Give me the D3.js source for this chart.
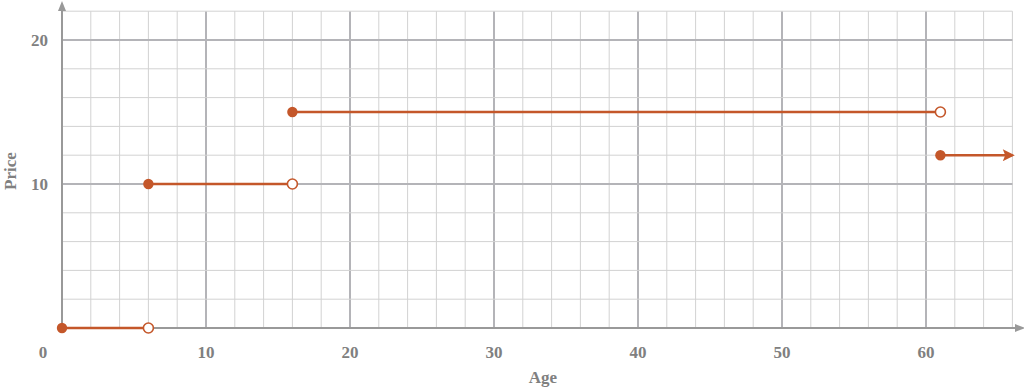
<!DOCTYPE html>
<html>
<head>
<meta charset="utf-8">
<script src="https://cdn.jsdelivr.net/npm/d3@7"></script>
<style>
  body { margin: 0; background: #fff; }
  text { font-family: "Liberation Serif", "Times New Roman", serif; font-weight: bold; fill: #808080; }
</style>
</head>
<body>
<svg id="chart" width="1024" height="389"></svg>
<script>
// step pieces: [start age, end age, price]
var segStart = [0, 6, 16, 61];
var segEnd = [6, 16, 61, 66];
var segPrice = [0, 10, 15, 12];
var lastOpen = true; // last piece keeps going (arrow)

var xTicks = [10, 20, 30, 40, 50, 60];
var yTicks = [10, 20];

var W = 1024, H = 389;
var x = d3.scaleLinear().domain([0, 66]).range([62, 1012.4]);
var y = d3.scaleLinear().domain([0, 22]).range([328, 11.2]);

var svg = d3.select("#chart");
var orange = "#c4572a";

var defs = svg.append("defs");
defs.append("marker").attr("id", "axisArrow")
    .attr("viewBox", "0 0 10 10").attr("refX", 5).attr("refY", 5)
    .attr("markerWidth", 5).attr("markerHeight", 5).attr("orient", "auto")
  .append("path").attr("d", "M0,1 L10,5 L0,9 Z").attr("fill", "#999");
defs.append("marker").attr("id", "lineArrow")
    .attr("viewBox", "0 0 10 10").attr("refX", 8).attr("refY", 5)
    .attr("markerWidth", 6).attr("markerHeight", 6).attr("orient", "auto")
    .attr("markerUnits", "userSpaceOnUse")
  .append("path").attr("d", "M0,0 L10,5 L0,10 L2,5 Z").attr("fill", orange);
d3.select("#lineArrow").attr("markerWidth", 14).attr("markerHeight", 12);

// grid
var grid = svg.append("g");
var minorX = d3.range(2, 67, 2), minorY = d3.range(2, 23, 2);
grid.selectAll(".vx").data(minorX).enter().append("line")
    .attr("x1", d => x(d)).attr("x2", d => x(d))
    .attr("y1", y(0)).attr("y2", y(22))
    .attr("stroke", d => d % 10 === 0 ? "#b4b4b8" : "#d2d2d2")
    .attr("stroke-width", d => d % 10 === 0 ? 2 : 1);
grid.selectAll(".hy").data(minorY).enter().append("line")
    .attr("x1", x(0)).attr("x2", x(66))
    .attr("y1", d => y(d)).attr("y2", d => y(d))
    .attr("stroke", d => d % 10 === 0 ? "#b4b4b8" : "#d2d2d2")
    .attr("stroke-width", d => d % 10 === 0 ? 2 : 1);

// axes
svg.append("line").attr("x1", x(0)).attr("x2", 1020).attr("y1", y(0)).attr("y2", y(0))
    .attr("stroke", "#999").attr("stroke-width", 2).attr("marker-end", "url(#axisArrow)");
svg.append("line").attr("x1", x(0)).attr("x2", x(0)).attr("y1", y(0)).attr("y2", 6)
    .attr("stroke", "#999").attr("stroke-width", 2).attr("marker-end", "url(#axisArrow)");

// tick labels
svg.selectAll(".xt").data(xTicks).enter().append("text")
    .attr("x", d => x(d)).attr("y", 358).attr("text-anchor", "middle")
    .attr("font-size", 17).text(d => d);
svg.append("text").attr("x", 43).attr("y", 358).attr("text-anchor", "middle")
    .attr("font-size", 17).text("0");
svg.selectAll(".yt").data(yTicks).enter().append("text")
    .attr("x", 48).attr("y", d => y(d) + 6).attr("text-anchor", "end")
    .attr("font-size", 17).text(d => d);

svg.append("text").attr("x", 543).attr("y", 383).attr("text-anchor", "middle")
    .attr("font-size", 17).text("Age");
svg.append("text").attr("transform", "translate(16," + 171 + ") rotate(-90)")
    .attr("text-anchor", "middle").attr("font-size", 17).text("Price");

// step pieces
var idx = d3.range(segStart.length);
var plot = svg.append("g");
plot.selectAll(".seg").data(idx).enter().append("line")
    .attr("x1", i => x(segStart[i])).attr("x2", i => x(segEnd[i]))
    .attr("y1", i => y(segPrice[i])).attr("y2", i => y(segPrice[i]))
    .attr("stroke", orange).attr("stroke-width", 2.5)
    .attr("marker-end", i => (lastOpen && i === idx.length - 1) ? "url(#lineArrow)" : null);
plot.selectAll(".open").data(lastOpen ? idx.slice(0, -1) : idx).enter().append("circle")
    .attr("cx", i => x(segEnd[i])).attr("cy", i => y(segPrice[i])).attr("r", 5)
    .attr("fill", "#fff").attr("stroke", orange).attr("stroke-width", 1.6);
plot.selectAll(".closed").data(idx).enter().append("circle")
    .attr("cx", i => x(segStart[i])).attr("cy", i => y(segPrice[i])).attr("r", 5.2)
    .attr("fill", orange);
</script>
</body>
</html>
